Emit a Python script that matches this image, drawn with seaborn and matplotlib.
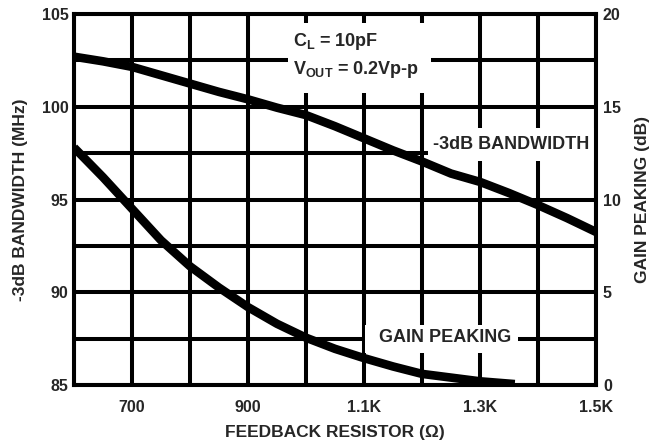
import matplotlib
matplotlib.use("Agg")
import matplotlib.pyplot as plt
import seaborn as sns
from matplotlib.patches import Rectangle

# feedback resistor (ohm) vs -3dB bandwidth (MHz), left axis
bw_res = [600, 650, 700, 750, 800, 850, 900, 950, 1000, 1050, 1100, 1150,
          1200, 1250, 1300, 1350, 1400, 1450, 1500]
bw_mhz = [102.7, 102.45, 102.15, 101.7, 101.25, 100.8, 100.4, 99.95, 99.55,
          98.95, 98.3, 97.65, 97.05, 96.4, 95.95, 95.35, 94.7, 94.0, 93.25]

# feedback resistor (ohm) vs gain peaking (dB), right axis
gp_res = [600, 650, 700, 750, 800, 850, 900, 950, 1000, 1050, 1100, 1150,
          1200, 1250, 1300, 1360]
gp_db = [12.8, 11.2, 9.5, 7.8, 6.4, 5.25, 4.2, 3.3, 2.55, 1.95, 1.45, 1.0,
         0.6, 0.4, 0.2, 0.05]

x_ticks = list(range(600, 1501, 100))
x_labels = ["", "700", "", "900", "", "1.1K", "", "1.3K", "", "1.5K"]
y_ticks = [85, 87.5, 90, 92.5, 95, 97.5, 100, 102.5, 105]
y_labels = ["85", "", "90", "", "95", "", "100", "", "105"]
y2_ticks = [0, 5, 10, 15, 20]

sns.set_style("white")
plt.rcParams["font.family"] = ["Liberation Sans", "DejaVu Sans"]
plt.rcParams["font.weight"] = "bold"
plt.rcParams["mathtext.fontset"] = "custom"
plt.rcParams["mathtext.rm"] = "Liberation Sans:bold"
plt.rcParams["mathtext.default"] = "rm"

LW = 2.9

fig = plt.figure(figsize=(6.62, 4.45), dpi=100)
ax = fig.add_axes([0.1118, 0.1348, 0.7885, 0.8337])

sns.lineplot(x=bw_res, y=bw_mhz, ax=ax, color="black", linewidth=6.2,
             solid_capstyle="butt", zorder=3)
ax.set_xlim(600, 1500)
ax.set_ylim(85, 105)
ax.set_xticks(x_ticks)
ax.set_xticklabels(x_labels)
ax.set_yticks(y_ticks)
ax.set_yticklabels(y_labels)
ax.set_axisbelow(True)
ax.grid(True, color="black", linewidth=LW)
ax.tick_params(axis="y", length=0, labelsize=11.5, pad=4)
ax.tick_params(axis="x", length=0, labelsize=11.5, pad=11)
ax.set_xlabel("FEEDBACK RESISTOR (Ω)", fontsize=12.5, fontweight="bold", labelpad=7)
ax.set_ylabel("-3dB BANDWIDTH (MHz)", fontsize=12.5, fontweight="bold", labelpad=10)
for s in ax.spines.values():
    s.set_linewidth(LW)
    s.set_color("black")

# white label backgrounds
ax.add_patch(Rectangle((969, 100.75), 246, 3.75, facecolor="white",
                       edgecolor="none", zorder=1))
ax.add_patch(Rectangle((1210, 97.08), 290, 1.77, facecolor="white",
                       edgecolor="none", zorder=1))
ax.add_patch(Rectangle((1102, 86.72), 264, 1.5, facecolor="white",
                       edgecolor="none", zorder=1))

ax.text(978, 103.5, r"C$_{L}$ = 10pF", fontsize=13, fontweight="bold",
        ha="left", va="center", zorder=4)
ax.text(978, 102.0, r"V$_{OUT}$ = 0.2Vp-p", fontsize=13, fontweight="bold",
        ha="left", va="center", zorder=4)
ax.text(1219, 97.95, "-3dB BANDWIDTH", fontsize=13, fontweight="bold",
        ha="left", va="center", zorder=4)
ax.text(1240, 87.55, "GAIN PEAKING", fontsize=13, fontweight="bold",
        ha="center", va="center", zorder=4)

ax2 = ax.twinx()
sns.lineplot(x=gp_res, y=gp_db, ax=ax2, color="black", linewidth=6.2,
             solid_capstyle="butt")
ax2.set_ylim(0, 20)
ax2.set_yticks(y2_ticks)
ax2.set_yticklabels([str(v) for v in y2_ticks])
ax2.tick_params(length=0, labelsize=11.5, pad=5)
ax2.set_ylabel("GAIN PEAKING (dB)", fontsize=12.5, fontweight="bold", labelpad=10)
for s in ax2.spines.values():
    s.set_linewidth(LW)
    s.set_color("black")

fig.savefig("out.png", dpi=100)
